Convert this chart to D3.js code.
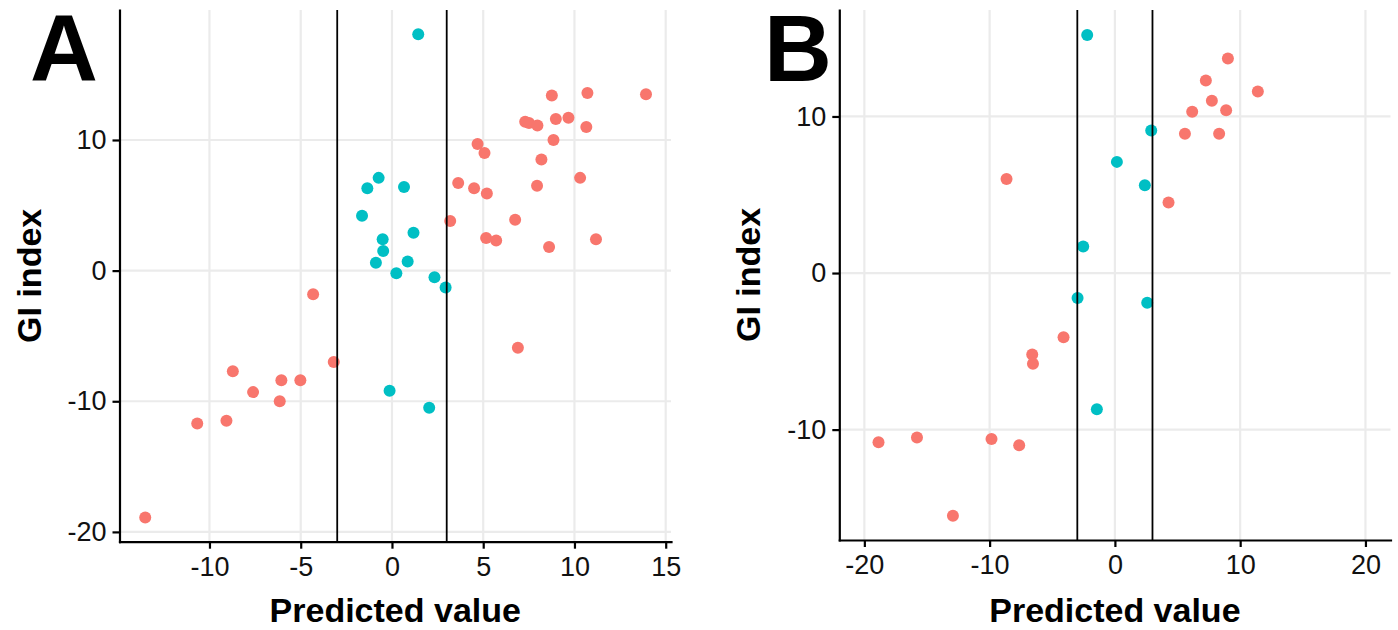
<!DOCTYPE html>
<html>
<head>
<meta charset="utf-8">
<script src="https://cdn.jsdelivr.net/npm/d3@7"></script>
<style>
  body { margin: 0; background: #fff; }
  text { font-family: "Liberation Sans", Arial, sans-serif; }
</style>
</head>
<body>
<div id="chart"></div>
<script>
// panel A: points outside / inside the cut-off band
const aOutX = [-4.32, -3.19, -8.72, -6.06, -5.02, -7.61, -6.15, -9.07, -10.67, -13.52,
  3.19, 3.63, 4.50, 5.20, 4.69, 5.07, 5.16, 5.71, 6.75, 6.90, 8.61, 7.95, 8.19, 8.85,
  8.98, 9.67, 7.30, 7.51, 7.97, 8.76, 10.71, 13.92, 10.65, 10.31, 11.18];
const aOutY = [-1.8, -7.0, -7.7, -8.4, -8.4, -9.3, -10.0, -11.5, -11.7, -18.9,
  3.8, 6.7, 6.3, 5.9, 9.7, 9.0, 2.5, 2.3, 3.9, -5.9, 1.8, 6.5, 8.5, 10.0,
  11.6, 11.7, 11.4, 11.3, 11.1, 13.4, 13.6, 13.5, 11.0, 7.1, 2.4];
const aInX = [-0.73, -1.35, 0.66, -1.64, -0.51, -0.48, -0.88, 0.24, 0.86, 1.18,
  2.33, 2.94, 1.44, -0.13, 2.04];
const aInY = [7.1, 6.3, 6.4, 4.2, 2.4, 1.5, 0.6, -0.2, 0.7, 2.9,
  -0.5, -1.3, 18.1, -9.2, -10.5];

// panel B
const bOutX = [-8.65, 9.02, 7.26, 11.41, 7.74, 6.17, 8.88, 5.59, 8.32, 4.28,
  -4.10, -6.60, -6.54, -18.87, -15.80, -9.85, -7.64, -12.93];
const bOutY = [6.0, 13.7, 12.3, 11.6, 11.0, 10.3, 10.4, 8.9, 8.9, 4.5,
  -4.1, -5.2, -5.8, -10.8, -10.5, -10.6, -11.0, -15.5];
const bInX = [-2.21, 0.16, -2.53, -2.98, 2.90, 2.39, -1.44, 2.58];
const bInY = [15.2, 7.1, 1.7, -1.6, 9.1, 5.6, -8.7, -1.9];

const aTicksX = [-10, -5, 0, 5, 10, 15];
const aTicksY = [-20, -10, 0, 10];
const bTicksX = [-20, -10, 0, 10, 20];
const bTicksY = [-10, 0, 10];
const cutoffs = [-3, 3];

const colOut = '#F8766D', colIn = '#00BFC4';

let svg = d3.select('#chart').append('svg')
  .attr('width', 1398)
  .attr('height', 630);

function drawPanel(p) {
  let x = d3.scaleLinear().domain(p.xDom).range([p.left, p.right]);
  let y = d3.scaleLinear().domain(p.yDom).range([p.bottom, p.top]);
  let g = svg.append('g');

  // grid
  g.selectAll('.gx').data(p.ticksX).enter().append('line')
    .attr('x1', d => x(d)).attr('x2', d => x(d))
    .attr('y1', p.top).attr('y2', p.bottom)
    .attr('stroke', '#ebebeb').attr('stroke-width', 2.2);
  g.selectAll('.gy').data(p.ticksY).enter().append('line')
    .attr('x1', p.left).attr('x2', p.right)
    .attr('y1', d => y(d)).attr('y2', d => y(d))
    .attr('stroke', '#ebebeb').attr('stroke-width', 2.2);

  // points
  let pts = p.outX.map((v, i) => ({x: v, y: p.outY[i], c: colOut}))
    .concat(p.inX.map((v, i) => ({x: v, y: p.inY[i], c: colIn})));
  g.selectAll('circle').data(pts).enter().append('circle')
    .attr('cx', d => x(d.x)).attr('cy', d => y(d.y))
    .attr('r', 6).attr('fill', d => d.c);

  // cut-off lines
  g.selectAll('.vl').data(cutoffs).enter().append('line')
    .attr('x1', d => x(d)).attr('x2', d => x(d))
    .attr('y1', p.top).attr('y2', p.bottom)
    .attr('stroke', '#000').attr('stroke-width', 1.8);

  // axes
  let fmt = d => d < 0 ? '-' + Math.abs(d) : d;
  let ax = g.append('g')
    .attr('transform', `translate(0,${p.bottom})`)
    .call(d3.axisBottom(x).tickValues(p.ticksX).tickSize(7).tickSizeOuter(0).tickPadding(8).tickFormat(fmt));
  let ay = g.append('g')
    .attr('transform', `translate(${p.left},0)`)
    .call(d3.axisLeft(y).tickValues(p.ticksY).tickSize(7).tickSizeOuter(0).tickPadding(6).tickFormat(fmt));
  [ax, ay].forEach(a => {
    a.select('.domain').attr('stroke', '#000').attr('stroke-width', 2.2).attr('stroke-linecap', 'square');
    a.selectAll('.tick line').attr('stroke', '#000').attr('stroke-width', 2.2);
    a.selectAll('.tick text').attr('font-size', 27).attr('fill', '#111')
      .attr('font-family', '"Liberation Sans", Arial, sans-serif');
  });

  // titles
  g.append('text')
    .attr('x', (p.left + p.right) / 2).attr('y', 622)
    .attr('text-anchor', 'middle').attr('font-weight', 'bold').attr('font-size', 34)
    .text('Predicted value');
  g.append('text')
    .attr('transform', `translate(${p.left - 79},${(p.top + p.bottom) / 2}) rotate(-90)`)
    .attr('text-anchor', 'middle').attr('font-weight', 'bold').attr('font-size', 34)
    .text('GI index');
  g.append('text')
    .attr('x', p.tagX).attr('y', 81)
    .attr('font-weight', 'bold').attr('font-size', 94)
    .text(p.tag);
}

drawPanel({tag: 'A', tagX: 30, left: 119.5, right: 671, top: 10, bottom: 541.7,
  xDom: [-14.93, 15.29], yDom: [-20.75, 19.95], ticksX: aTicksX, ticksY: aTicksY,
  outX: aOutX, outY: aOutY, inX: aInX, inY: aInY});
drawPanel({tag: 'B', tagX: 764, left: 839.3, right: 1390.5, top: 10, bottom: 540,
  xDom: [-22, 22], yDom: [-17.05, 16.8], ticksX: bTicksX, ticksY: bTicksY,
  outX: bOutX, outY: bOutY, inX: bInX, inY: bInY});
</script>
</body>
</html>
